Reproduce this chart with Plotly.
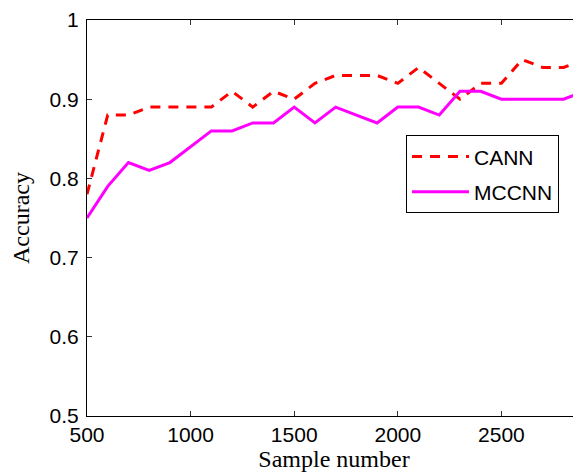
import plotly.graph_objects as go

sample_number = [500, 600, 700, 800, 900, 1000, 1100, 1200, 1300, 1400, 1500,
                 1600, 1700, 1800, 1900, 2000, 2100, 2200, 2300, 2400, 2500,
                 2600, 2700, 2800, 2900]
cann = [0.78, 0.88, 0.88, 0.89, 0.89, 0.89, 0.89, 0.91, 0.89, 0.91, 0.90,
        0.92, 0.93, 0.93, 0.93, 0.92, 0.94, 0.92, 0.90, 0.92, 0.92,
        0.95, 0.94, 0.94, 0.95]
mccnn = [0.75, 0.79, 0.82, 0.81, 0.82, 0.84, 0.86, 0.86, 0.87, 0.87, 0.89,
         0.87, 0.89, 0.88, 0.87, 0.89, 0.89, 0.88, 0.91, 0.91, 0.90,
         0.90, 0.90, 0.90, 0.91]
x_ticks = [500, 1000, 1500, 2000, 2500]
y_ticks = [0.5, 0.6, 0.7, 0.8, 0.9, 1.0]
y_tick_labels = ["0.5", "0.6", "0.7", "0.8", "0.9", "1"]

fig = go.Figure()
fig.add_trace(go.Scatter(x=sample_number, y=cann, mode="lines", name="CANN",
                         legendgroup="cann",
                         line=dict(color="#FF0000", width=3, dash="10px,8px")))
fig.add_trace(go.Scatter(x=sample_number, y=mccnn, mode="lines", name="MCCNN",
                         legendgroup="mccnn",
                         line=dict(color="#FF00FF", width=3)))

tick_font = dict(family="Liberation Sans, Arial, sans-serif", size=21, color="black")
title_font = dict(family="Liberation Serif, Times New Roman, serif", size=24, color="black")

fig.update_layout(
    width=573, height=464,
    margin=dict(l=79, r=0, t=12, b=56),
    paper_bgcolor="white", plot_bgcolor="white",
    showlegend=True,
    legend=dict(x=0.6457, y=0.7088, xanchor="left", yanchor="top",
                itemwidth=57, tracegroupgap=5,
                bordercolor="black", borderwidth=1, bgcolor="white",
                font=dict(family="Liberation Sans, Arial, sans-serif", size=21, color="black")),
)
fig.update_xaxes(
    range=[500, 2884], tickvals=x_ticks, ticks="inside", ticklen=5, tickcolor="#333",
    showline=True, linecolor="black", linewidth=1, mirror="ticks",
    showgrid=False, zeroline=False, tickfont=tick_font,
    title=dict(text="Sample number", font=title_font, standoff=10),
)
fig.update_yaxes(
    range=[0.5, 1.0], tickvals=y_ticks, ticktext=y_tick_labels, ticks="inside",
    ticklen=5, tickcolor="#333", showline=True, linecolor="black", linewidth=1,
    mirror=False, showgrid=False, zeroline=False, tickfont=tick_font,
    ticklabelstandoff=3,
    title=dict(text="Accuracy", font=title_font, standoff=23),
)

fig.write_html("out.html")
